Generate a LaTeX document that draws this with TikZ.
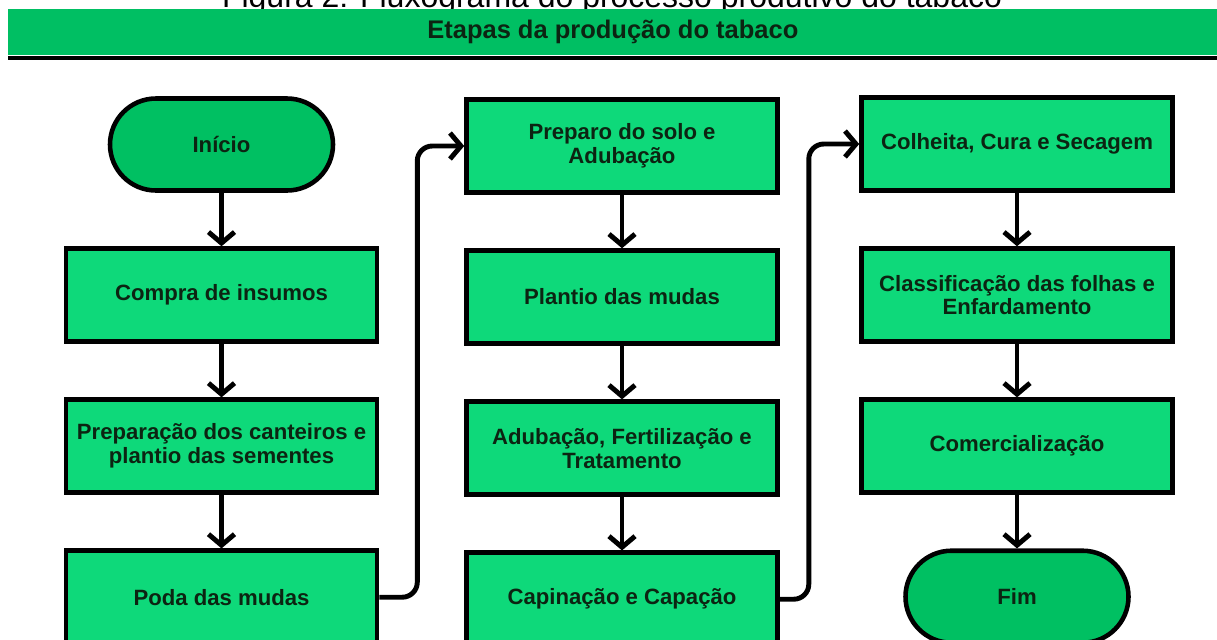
\documentclass[tikz,border=0pt]{standalone}
\usepackage{fontspec}
\setmainfont{Liberation Sans}
\usepackage{xcolor}
\usetikzlibrary{positioning,arrows.meta}
\definecolor{bannergreen}{RGB}{0,191,99}
\definecolor{boxgreen}{RGB}{14,217,122}
\definecolor{termgreen}{RGB}{0,192,98}
\definecolor{textdark}{RGB}{12,36,18}

\begin{document}
\begin{tikzpicture}[
    node distance     = 1.07cm,
    every node/.style = {font=\fontsize{12.6}{13.6}\selectfont\bfseries, text=textdark, align=center},
    stepbox/.style    = {draw, line width=2.6pt, fill=boxgreen, minimum width=6.22cm, minimum height=1.86cm, inner sep=0pt},
    terminal/.style   = {draw, line width=2.6pt, fill=termgreen, rounded corners=0.92cm, minimum width=4.46cm, minimum height=1.84cm},
    flow/.style       = {line width=2.8pt, -{Straight Barb[length=2.2mm,width=5.2mm]}}
  ]
\useasboundingbox (0,0) rectangle (24.34,-12.78);

% title and banner
\node[font=\fontsize{18.2}{20}\selectfont, text=black, anchor=base] (title) at (12.24,-0.14)
  {Figura 2: Fluxograma do processo produtivo do tabaco};
\node[fill=bannergreen, anchor=north west, minimum width=24.18cm, minimum height=0.92cm,
      font=\fontsize{14.5}{16}\selectfont\bfseries] (banner) at (0.16,-0.18) {Etapas da produção do tabaco};
\draw[line width=0.08cm] ([yshift=-0.04cm]banner.south west) -- ([yshift=-0.04cm]banner.south east);

% first column
\node[terminal] (inicio) at (4.43,-2.89) {Início};
\node[stepbox, below=of inicio] (compra) {Compra de insumos};
\node[stepbox, below=of compra] (canteiros) {Preparação dos canteiros e\\ plantio das sementes};
\node[stepbox, below=of canteiros] (poda) {Poda das mudas};

% second column
\node[stepbox] (preparo) at (12.44,-2.92) {Preparo do solo e\\ Adubação};
\node[stepbox, below=of preparo] (plantio) {Plantio das mudas};
\node[stepbox, below=of plantio] (adubacao) {Adubação, Fertilização e\\ Tratamento};
\node[stepbox, below=of adubacao] (capina) {Capinação e Capação};

% third column
\node[stepbox] (colheita) at (20.34,-2.88) {Colheita, Cura e Secagem};
\node[stepbox, below=of colheita] (classif) {Classificação das folhas e\\ Enfardamento};
\node[stepbox, below=of classif] (comerc) {Comercialização};
\node[terminal, below=of comerc] (fim) {Fim};

\draw[flow] (inicio) -- (compra);
\draw[flow] (compra) -- (canteiros);
\draw[flow] (canteiros) -- (poda);
\draw[flow, rounded corners=0.3cm] (poda.east) -- ++(0.76,0) |- (preparo.west);
\draw[flow] (preparo) -- (plantio);
\draw[flow] (plantio) -- (adubacao);
\draw[flow] (adubacao) -- (capina);
\draw[flow, rounded corners=0.3cm] (capina.east) -- ++(0.58,0) |- (colheita.west);
\draw[flow] (colheita) -- (classif);
\draw[flow] (classif) -- (comerc);
\draw[flow] (comerc) -- (fim);
\end{tikzpicture}
\end{document}
